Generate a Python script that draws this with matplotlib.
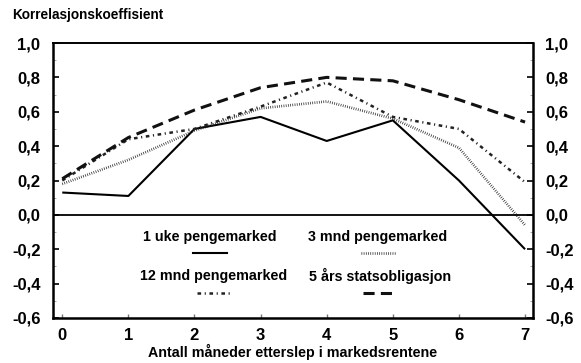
import matplotlib
matplotlib.use("Agg")
import matplotlib.pyplot as plt
from matplotlib.ticker import MultipleLocator

plt.rcParams['font.family'] = ['Liberation Sans', 'DejaVu Sans']
plt.rcParams['lines.scale_dashes'] = False

# Correlation with lagged market rates, by months of lag
lags = [0, 1, 2, 3, 4, 5, 6, 7]
uke1 = [0.13, 0.11, 0.50, 0.57, 0.43, 0.55, 0.20, -0.20]
mnd3 = [0.18, 0.32, 0.49, 0.62, 0.66, 0.56, 0.39, -0.06]
mnd12 = [0.20, 0.44, 0.50, 0.63, 0.77, 0.57, 0.50, 0.19]
aar5 = [0.21, 0.45, 0.61, 0.74, 0.80, 0.78, 0.67, 0.54]

labels = ["1 uke pengemarked", "3 mnd pengemarked",
          "12 mnd pengemarked", "5 års statsobligasjon"]
ytick_labels = ["-0,6", "-0,4", "-0,2", "0,0", "0,2", "0,4", "0,6", "0,8", "1,0"]
yticks = [-0.6, -0.4, -0.2, 0.0, 0.2, 0.4, 0.6, 0.8, 1.0]

fig = plt.figure(figsize=(5.81, 3.63), dpi=100)
ax = fig.add_axes([53 / 581, 1 - 318 / 363, 480 / 581, 275 / 363])

styles = [
    dict(color="black", lw=1.5, linestyle="-"),
    dict(color="#222222", lw=1.9, linestyle=(0, (0.5, 1.1))),
    dict(color="#222222", lw=1.8, linestyle=(0, (2.6, 2.6, 0.8, 2.6))),
    dict(color="#111111", lw=2.2, linestyle=(0, (8.0, 4.5))),
]
series = [uke1, mnd3, mnd12, aar5]
for ys, st in zip(series, styles):
    ax.plot(lags, ys, solid_capstyle="butt", dash_capstyle="butt", **st)

ax.axhline(0.0, color="black", lw=1.3)

ax.set_xlim(-0.14, 7.12)
ax.set_ylim(-0.6, 1.0)
ax.set_xticks(lags)
ax.set_yticks(yticks)
ax.set_yticklabels(ytick_labels)
ax.yaxis.set_minor_locator(MultipleLocator(0.1))

for side in ["left", "right", "bottom"]:
    ax.spines[side].set_linewidth(1.8)
ax.spines["top"].set_linewidth(1.4)

ax.tick_params(axis="y", which="major", direction="in", length=4, width=1.2,
               labelsize=12, left=True, right=True, labelleft=True,
               labelright=True, pad=9)
ax.tick_params(axis="y", which="minor", direction="in", length=2, width=0.6,
               left=True, right=True, color="#999999")
ax.tick_params(axis="x", which="major", direction="in", length=3, width=1.0,
               labelsize=12, pad=7, color="#777777")
for t in ax.get_xticklabels() + ax.get_yticklabels():
    t.set_fontweight("bold")

ax.set_xlabel("Antall måneder etterslep i markedsrentene", fontsize=10.3,
              fontweight="bold", labelpad=1)
fig.text(12 / 581, 1 - 15 / 363, "Korrelasjonskoeffisient", fontsize=9.8,
         fontweight="bold", ha="left", va="center")

# Legend: label text above a short sample of each line style
legend_pos = [(0.327, 0.295), (0.677, 0.295), (0.335, 0.152), (0.681, 0.152)]
for (lx, ly), lab, st in zip(legend_pos, labels, styles):
    ax.text(lx, ly, lab, transform=ax.transAxes, ha="center", va="center",
            fontsize=10.3, fontweight="bold")
    ax.plot([lx - 0.035, lx + 0.035], [ly - 0.06, ly - 0.06],
            transform=ax.transAxes, **st)

fig.savefig("out.png", dpi=100)
